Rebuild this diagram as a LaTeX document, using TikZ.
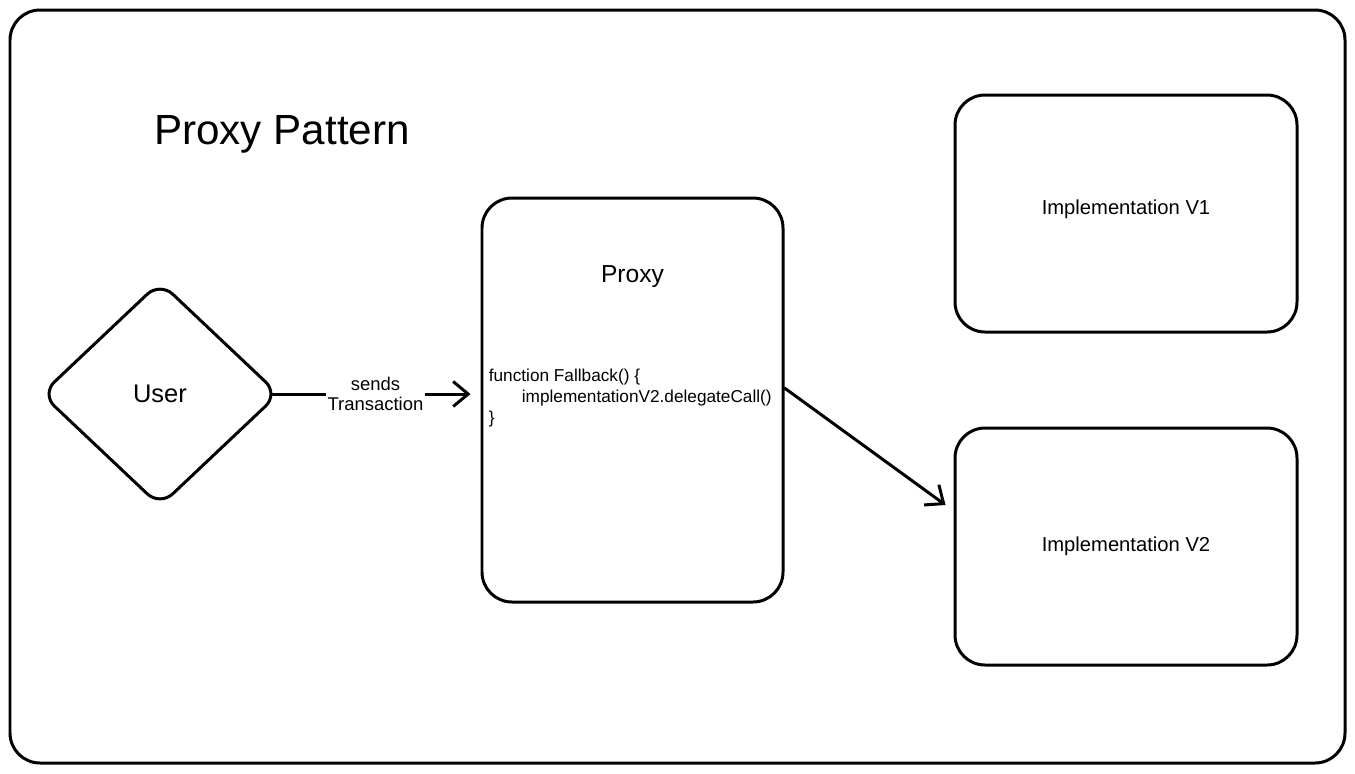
\documentclass[tikz,border=0pt]{standalone}
\usepackage{fontspec}
\setmainfont{Liberation Sans}
\usetikzlibrary{arrows.meta}
\usetikzlibrary{shapes.geometric}
\begin{document}
\begin{tikzpicture}

\tikzstyle{block}=[draw,rectangle,rounded corners={0.6cm},line width={1.7pt},align={center}]
\tikzstyle{actor}=[draw,diamond,rounded corners={0.35cm},line width={1.7pt},inner sep={0pt},minimum width={4.76cm},minimum height={4.5cm},shape aspect={1.06}]
\tikzstyle{link}=[line width={1.7pt},line cap={round},arrows={-Straight Barb[length=3mm,width=5mm]}]

% frame

\useasboundingbox (0,0) rectangle (27.1,-15.46) ;
\draw [line width={1.7pt},rounded corners={0.6cm}] (0.2,-0.2) rectangle (26.9,-15.26) ;

\node at (5.64,-2.68) [font={\fontsize{24}{28}\selectfont}] (T) {Proxy Pattern} ;

% components: nodes

\node at (3.2,-7.88) [actor,font={\fontsize{14.5}{17}\selectfont}] (U) {User} ;
\node at (12.65,-8.0) [block,minimum width={6.02cm},minimum height={8.08cm}] (P) {} ;
\node at (22.52,-4.27) [block,minimum width={6.84cm},minimum height={4.74cm},font={\fontsize{11.5}{14}\selectfont}] (V1) {\raisebox{0.26cm}{Implementation V1}} ;
\node at (22.52,-10.93) [block,minimum width={6.84cm},minimum height={4.74cm},font={\fontsize{11.5}{14}\selectfont}] (V2) {Implementation V2} ;

% components: proxy texts

\node at ([shift={(0.0cm,-1.6cm)}] P.north) [font={\fontsize{14}{17}\selectfont}] (PL) {Proxy} ;
\node at ([shift={(0.16cm,0.04cm)}] P.west) [anchor={west},align={left},inner sep={0pt},font={\fontsize{9.8}{12}\selectfont}] (PC) {function Fallback() \{\\\hspace*{0.66cm}implementationV2.delegateCall()\\\}} ;

% connections

\draw [link,shorten <={-0.16cm}] (U.east) -- node [midway,fill=white,align={center},inner sep={1pt},font={\fontsize{10.5}{11.5}\selectfont}] {sends\\Transaction} ([xshift=-0.2cm] P.west |- U.east) ;
\draw [link] ([yshift=0.24cm] P.east) -- ([shift={(-0.16cm,0.83cm)}] V2.west) ;

\end{tikzpicture}
\end{document}
